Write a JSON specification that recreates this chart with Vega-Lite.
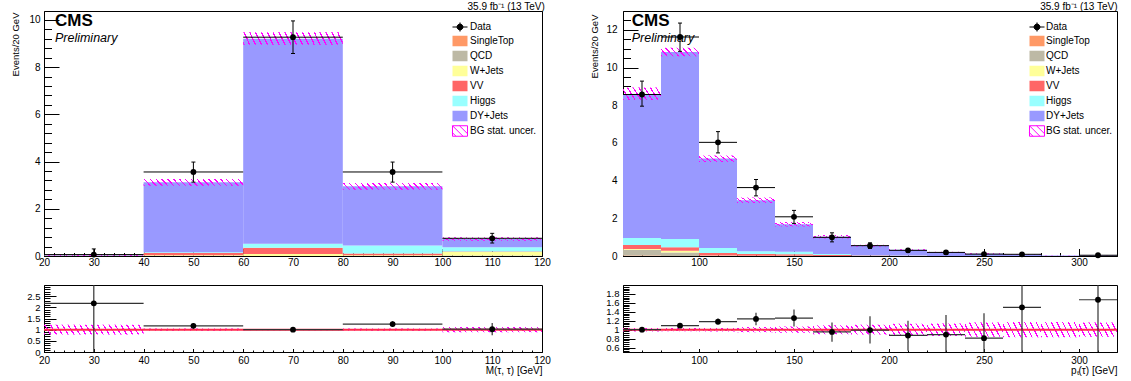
{
  "$schema": "https://vega.github.io/schema/vega-lite/v6.json",
  "autosize": {"type": "pad"},
  "padding": {"left": 9, "top": 1, "right": 0, "bottom": 0},
  "background": "white",
  "bounds": "flush",
  "columns": 2,
  "spacing": {"row": 29, "column": 81},
  "datasets": {
    "one": [{}],
    "mBars": [
      {"lo":20,"hi":40,"proc":"W+Jets","k":3,"val":0.003},
      {"lo":20,"hi":40,"proc":"VV","k":4,"val":0.006},
      {"lo":20,"hi":40,"proc":"Higgs","k":5,"val":0.002},
      {"lo":20,"hi":40,"proc":"DY+Jets","k":6,"val":0.017},
      {"lo":40,"hi":60,"proc":"W+Jets","k":3,"val":0.03},
      {"lo":40,"hi":60,"proc":"VV","k":4,"val":0.10},
      {"lo":40,"hi":60,"proc":"Higgs","k":5,"val":0.03},
      {"lo":40,"hi":60,"proc":"DY+Jets","k":6,"val":2.96},
      {"lo":60,"hi":80,"proc":"W+Jets","k":3,"val":0.08},
      {"lo":60,"hi":80,"proc":"VV","k":4,"val":0.27},
      {"lo":60,"hi":80,"proc":"Higgs","k":5,"val":0.17},
      {"lo":60,"hi":80,"proc":"DY+Jets","k":6,"val":8.68},
      {"lo":80,"hi":100,"proc":"W+Jets","k":3,"val":0.03},
      {"lo":80,"hi":100,"proc":"VV","k":4,"val":0.08},
      {"lo":80,"hi":100,"proc":"Higgs","k":5,"val":0.34},
      {"lo":80,"hi":100,"proc":"DY+Jets","k":6,"val":2.50},
      {"lo":100,"hi":120,"proc":"QCD","k":2,"val":0.02},
      {"lo":100,"hi":120,"proc":"W+Jets","k":3,"val":0.15},
      {"lo":100,"hi":120,"proc":"VV","k":4,"val":0.02},
      {"lo":100,"hi":120,"proc":"Higgs","k":5,"val":0.18},
      {"lo":100,"hi":120,"proc":"DY+Jets","k":6,"val":0.35}
    ],
    "mBand": [
      {"lo":20,"hi":40,"blo":0.012,"bhi":0.044},
      {"lo":40,"hi":60,"blo":2.98,"bhi":3.26},
      {"lo":60,"hi":80,"blo":8.95,"bhi":9.48},
      {"lo":80,"hi":100,"blo":2.81,"bhi":3.09},
      {"lo":100,"hi":120,"blo":0.65,"bhi":0.79}
    ],
    "mData": [
      {"x":30,"xlo":20,"xhi":40,"y":0.06,"ylo":0,"yhi":0.3},
      {"x":50,"xlo":40,"xhi":60,"y":3.56,"ylo":3.13,"yhi":3.98},
      {"x":70,"xlo":60,"xhi":80,"y":9.27,"ylo":8.58,"yhi":9.96},
      {"x":90,"xlo":80,"xhi":100,"y":3.56,"ylo":3.13,"yhi":3.98},
      {"x":110,"xlo":100,"xhi":120,"y":0.75,"ylo":0.55,"yhi":0.96}
    ],
    "mRatio": [
      {"x":30,"xlo":20,"xhi":40,"y":2.18,"ylo":0,"yhi":11},
      {"x":50,"xlo":40,"xhi":60,"y":1.17,"ylo":1.04,"yhi":1.3},
      {"x":70,"xlo":60,"xhi":80,"y":1.0,"ylo":0.93,"yhi":1.08},
      {"x":90,"xlo":80,"xhi":100,"y":1.25,"ylo":1.12,"yhi":1.38},
      {"x":110,"xlo":100,"xhi":120,"y":1.02,"ylo":0.75,"yhi":1.3}
    ],
    "mRBand": [
      {"lo":20,"hi":40,"rlo":0.78,"rhi":1.22},
      {"lo":40,"hi":60,"rlo":0.95,"rhi":1.05},
      {"lo":60,"hi":80,"rlo":0.97,"rhi":1.03},
      {"lo":80,"hi":100,"rlo":0.95,"rhi":1.05},
      {"lo":100,"hi":120,"rlo":0.88,"rhi":1.12}
    ],
    "pBars": [
      {"lo":60,"hi":80,"proc":"SingleTop","k":1,"val":0.02},
      {"lo":60,"hi":80,"proc":"QCD","k":2,"val":0.31},
      {"lo":60,"hi":80,"proc":"W+Jets","k":3,"val":0.04},
      {"lo":60,"hi":80,"proc":"VV","k":4,"val":0.21},
      {"lo":60,"hi":80,"proc":"Higgs","k":5,"val":0.37},
      {"lo":60,"hi":80,"proc":"DY+Jets","k":6,"val":7.65},
      {"lo":80,"hi":100,"proc":"QCD","k":2,"val":0.18},
      {"lo":80,"hi":100,"proc":"W+Jets","k":3,"val":0.10},
      {"lo":80,"hi":100,"proc":"VV","k":4,"val":0.18},
      {"lo":80,"hi":100,"proc":"Higgs","k":5,"val":0.44},
      {"lo":80,"hi":100,"proc":"DY+Jets","k":6,"val":9.93},
      {"lo":100,"hi":120,"proc":"QCD","k":2,"val":0.01},
      {"lo":100,"hi":120,"proc":"W+Jets","k":3,"val":0.02},
      {"lo":100,"hi":120,"proc":"VV","k":4,"val":0.13},
      {"lo":100,"hi":120,"proc":"Higgs","k":5,"val":0.26},
      {"lo":100,"hi":120,"proc":"DY+Jets","k":6,"val":4.75},
      {"lo":120,"hi":140,"proc":"W+Jets","k":3,"val":0.01},
      {"lo":120,"hi":140,"proc":"VV","k":4,"val":0.09},
      {"lo":120,"hi":140,"proc":"Higgs","k":5,"val":0.15},
      {"lo":120,"hi":140,"proc":"DY+Jets","k":6,"val":2.71},
      {"lo":140,"hi":160,"proc":"W+Jets","k":3,"val":0.01},
      {"lo":140,"hi":160,"proc":"VV","k":4,"val":0.08},
      {"lo":140,"hi":160,"proc":"Higgs","k":5,"val":0.13},
      {"lo":140,"hi":160,"proc":"DY+Jets","k":6,"val":1.46},
      {"lo":160,"hi":180,"proc":"VV","k":4,"val":0.05},
      {"lo":160,"hi":180,"proc":"Higgs","k":5,"val":0.05},
      {"lo":160,"hi":180,"proc":"DY+Jets","k":6,"val":0.92},
      {"lo":180,"hi":200,"proc":"VV","k":4,"val":0.02},
      {"lo":180,"hi":200,"proc":"Higgs","k":5,"val":0.02},
      {"lo":180,"hi":200,"proc":"DY+Jets","k":6,"val":0.51},
      {"lo":200,"hi":220,"proc":"VV","k":4,"val":0.01},
      {"lo":200,"hi":220,"proc":"Higgs","k":5,"val":0.01},
      {"lo":200,"hi":220,"proc":"DY+Jets","k":6,"val":0.31},
      {"lo":220,"hi":240,"proc":"DY+Jets","k":6,"val":0.21},
      {"lo":240,"hi":260,"proc":"DY+Jets","k":6,"val":0.12},
      {"lo":260,"hi":280,"proc":"DY+Jets","k":6,"val":0.08},
      {"lo":280,"hi":300,"proc":"DY+Jets","k":6,"val":0.02},
      {"lo":300,"hi":320,"proc":"DY+Jets","k":6,"val":0.02}
    ],
    "pBand": [
      {"lo":60,"hi":80,"blo":8.28,"bhi":8.94},
      {"lo":80,"hi":100,"blo":10.6,"bhi":11.05},
      {"lo":100,"hi":120,"blo":4.99,"bhi":5.33},
      {"lo":120,"hi":140,"blo":2.81,"bhi":3.11},
      {"lo":140,"hi":160,"blo":1.56,"bhi":1.8},
      {"lo":160,"hi":180,"blo":0.93,"bhi":1.11},
      {"lo":180,"hi":200,"blo":0.5,"bhi":0.6},
      {"lo":200,"hi":220,"blo":0.3,"bhi":0.36},
      {"lo":220,"hi":240,"blo":0.19,"bhi":0.23},
      {"lo":240,"hi":260,"blo":0.1,"bhi":0.14},
      {"lo":260,"hi":280,"blo":0.065,"bhi":0.095},
      {"lo":280,"hi":300,"blo":0.012,"bhi":0.028},
      {"lo":300,"hi":320,"blo":0.012,"bhi":0.028}
    ],
    "pData": [
      {"x":70,"xlo":60,"xhi":80,"y":8.57,"ylo":7.95,"yhi":9.28},
      {"x":90,"xlo":80,"xhi":100,"y":11.62,"ylo":10.86,"yhi":12.36},
      {"x":110,"xlo":100,"xhi":120,"y":6.03,"ylo":5.47,"yhi":6.6},
      {"x":130,"xlo":120,"xhi":140,"y":3.63,"ylo":3.19,"yhi":4.06},
      {"x":150,"xlo":140,"xhi":160,"y":2.08,"ylo":1.73,"yhi":2.42},
      {"x":170,"xlo":160,"xhi":180,"y":0.99,"ylo":0.75,"yhi":1.23},
      {"x":190,"xlo":180,"xhi":200,"y":0.55,"ylo":0.4,"yhi":0.7},
      {"x":210,"xlo":200,"xhi":220,"y":0.3,"ylo":0.2,"yhi":0.4},
      {"x":230,"xlo":220,"xhi":240,"y":0.19,"ylo":0.11,"yhi":0.27},
      {"x":250,"xlo":240,"xhi":260,"y":0.1,"ylo":0.04,"yhi":0.17},
      {"x":270,"xlo":260,"xhi":280,"y":0.09,"ylo":0.03,"yhi":0.16},
      {"x":310,"xlo":300,"xhi":320,"y":0.04,"ylo":0,"yhi":0.09}
    ],
    "pRatio": [
      {"x":70,"xlo":60,"xhi":80,"y":1.0,"ylo":0.94,"yhi":1.06},
      {"x":90,"xlo":80,"xhi":100,"y":1.09,"ylo":1.04,"yhi":1.14},
      {"x":110,"xlo":100,"xhi":120,"y":1.18,"ylo":1.11,"yhi":1.25},
      {"x":130,"xlo":120,"xhi":140,"y":1.24,"ylo":1.1,"yhi":1.38},
      {"x":150,"xlo":140,"xhi":160,"y":1.26,"ylo":1.07,"yhi":1.45},
      {"x":170,"xlo":160,"xhi":180,"y":0.95,"ylo":0.73,"yhi":1.16},
      {"x":190,"xlo":180,"xhi":200,"y":0.99,"ylo":0.69,"yhi":1.3},
      {"x":210,"xlo":200,"xhi":220,"y":0.87,"ylo":0.53,"yhi":1.2},
      {"x":230,"xlo":220,"xhi":240,"y":0.89,"ylo":0.45,"yhi":1.33},
      {"x":250,"xlo":240,"xhi":260,"y":0.81,"ylo":0.2,"yhi":1.37},
      {"x":270,"xlo":260,"xhi":280,"y":1.5,"ylo":0.4,"yhi":2.6},
      {"x":310,"xlo":300,"xhi":320,"y":1.67,"ylo":0,"yhi":3.5}
    ],
    "pRBand": [
      {"lo":60,"hi":80,"rlo":0.96,"rhi":1.04},
      {"lo":80,"hi":100,"rlo":0.965,"rhi":1.035},
      {"lo":100,"hi":120,"rlo":0.96,"rhi":1.04},
      {"lo":120,"hi":140,"rlo":0.94,"rhi":1.06},
      {"lo":140,"hi":160,"rlo":0.93,"rhi":1.07},
      {"lo":160,"hi":180,"rlo":0.9,"rhi":1.1},
      {"lo":180,"hi":200,"rlo":0.89,"rhi":1.11},
      {"lo":200,"hi":220,"rlo":0.87,"rhi":1.13},
      {"lo":220,"hi":240,"rlo":0.86,"rhi":1.14},
      {"lo":240,"hi":260,"rlo":0.84,"rhi":1.16},
      {"lo":260,"hi":280,"rlo":0.83,"rhi":1.17},
      {"lo":280,"hi":300,"rlo":0.83,"rhi":1.17},
      {"lo":300,"hi":320,"rlo":0.84,"rhi":1.16}
    ]
  },
  "concat": [
    {
      "width": 498,
      "height": 245,
      "title": {"text": "35.9 fb⁻¹ (13 TeV)", "anchor": "end", "offset": -8.5, "dx": -5.5, "baseline": "alphabetic", "fontSize": 10, "fontWeight": "normal", "font": "Liberation Sans", "color": "#000"},
      "layer": [
        {
          "data": {"name": "mBars"},
          "transform": [{"stack": "val", "groupby": ["lo"], "sort": [{"field": "k", "order": "ascending"}], "as": ["s0", "s1"]}],
          "mark": {"type": "rect"},
          "encoding": {
            "x": {"field": "lo", "type": "quantitative", "scale": {"domain": [20, 120], "nice": false, "zero": false},
              "axis": {"values": [20,22,24,26,28,30,32,34,36,38,40,42,44,46,48,50,52,54,56,58,60,62,64,66,68,70,72,74,76,78,80,82,84,86,88,90,92,94,96,98,100,102,104,106,108,110,112,114,116,118,120],
                "tickCount": 1000, "format": "~r", "labelOverlap": false, "labelSeparation": -40, "labelExpr": "datum.value % 10 === 0 ? datum.label : ''",
                "labelFontSize": {"condition": {"test": "datum.value % 10 === 0", "value": 10}, "value": 0},
                "tickSize": {"condition": {"test": "datum.value % 10 === 0", "value": -7.5}, "value": -3.5},
                "labelPadding": 9, "title": null}},
            "x2": {"field": "hi"},
            "y": {"field": "s0", "type": "quantitative", "scale": {"domain": [0, 10.38], "nice": false, "zero": false},
              "axis": {"values": [0,0.4,0.8,1.2,1.6,2,2.4,2.8,3.2,3.6,4,4.4,4.8,5.2,5.6,6,6.4,6.8,7.2,7.6,8,8.4,8.8,9.2,9.6,10],
                "tickCount": 1000, "format": "~r", "labelOverlap": false, "labelSeparation": -40, "labelExpr": "datum.value % 2 === 0 ? datum.label : ''",
                "labelFontSize": {"condition": {"test": "datum.value % 2 === 0", "value": 10}, "value": 0},
                "tickSize": {"condition": {"test": "datum.value % 2 === 0", "value": -15}, "value": -7.5},
                "labelPadding": 19, "title": "Events/20 GeV", "titleFontSize": 9.5, "titleAngle": -90, "titleAlign": "right", "titleBaseline": "middle", "titleX": -29, "titleY": 1}},
            "y2": {"field": "s1"},
            "color": {"field": "proc", "type": "nominal",
              "scale": {"domain": ["Data","SingleTop","QCD","W+Jets","VV","Higgs","DY+Jets","BG stat. uncer."], "range": ["#000000","#ff9966","#bdb9a5","#ffff99","#ff6666","#99ffff","#9999ff","#ffffff"]},
              "legend": {"title": null, "orient": "none", "direction": "vertical", "legendX": 409, "legendY": 9, "padding": 0,
                "labelFont": "Liberation Sans", "labelFontSize": 10, "labelColor": "#000", "labelOffset": 3,
                "symbolSize": 169, "symbolStrokeWidth": 1, "rowPadding": -1.3,
                "encode": {"symbols": {"update": {
                  "shape": {"signal": "datum.value === 'Data' ? 'M-1.154,0H1.154M0,-0.7V0.7M0.45,0A0.45,0.45,0,1,1,-0.45,0A0.45,0.45,0,1,1,0.45,0Z' : (datum.value === 'BG stat. uncer.' ? 'M-1.154,-0.808H1.154V0.808H-1.154ZM-1.154,-0.808L0.46,0.808M-0.08,-0.808L1.154,0.42M-1.154,0.27L-0.62,0.808' : 'M-1.154,-0.808H1.154V0.808H-1.154Z')"},
                  "stroke": {"signal": "datum.value === 'BG stat. uncer.' ? '#ff00ff' : (datum.value === 'Data' ? '#000000' : 'transparent')"},
                  "strokeWidth": {"value": 1}
                }}}}
            }
          }
        },
        {
          "data": {"name": "mBand"},
          "mark": {"type": "rect", "fill": {"gradient":"linear","x1":0,"y1":1,"x2":1.0562,"y2":0.9366,"stops":[
            {"offset":0,"color":"#ff00ff"},{"offset":0.0139,"color":"#ff00ff"},{"offset":0.0139,"color":"transparent"},{"offset":0.0556,"color":"transparent"},
            {"offset":0.0556,"color":"#ff00ff"},{"offset":0.0694,"color":"#ff00ff"},{"offset":0.0694,"color":"transparent"},{"offset":0.1111,"color":"transparent"},
            {"offset":0.1111,"color":"#ff00ff"},{"offset":0.125,"color":"#ff00ff"},{"offset":0.125,"color":"transparent"},{"offset":0.1667,"color":"transparent"},
            {"offset":0.1667,"color":"#ff00ff"},{"offset":0.1806,"color":"#ff00ff"},{"offset":0.1806,"color":"transparent"},{"offset":0.2222,"color":"transparent"},
            {"offset":0.2222,"color":"#ff00ff"},{"offset":0.2361,"color":"#ff00ff"},{"offset":0.2361,"color":"transparent"},{"offset":0.2778,"color":"transparent"},
            {"offset":0.2778,"color":"#ff00ff"},{"offset":0.2917,"color":"#ff00ff"},{"offset":0.2917,"color":"transparent"},{"offset":0.3333,"color":"transparent"},
            {"offset":0.3333,"color":"#ff00ff"},{"offset":0.3472,"color":"#ff00ff"},{"offset":0.3472,"color":"transparent"},{"offset":0.3889,"color":"transparent"},
            {"offset":0.3889,"color":"#ff00ff"},{"offset":0.4028,"color":"#ff00ff"},{"offset":0.4028,"color":"transparent"},{"offset":0.4444,"color":"transparent"},
            {"offset":0.4444,"color":"#ff00ff"},{"offset":0.4583,"color":"#ff00ff"},{"offset":0.4583,"color":"transparent"},{"offset":0.5,"color":"transparent"},
            {"offset":0.5,"color":"#ff00ff"},{"offset":0.5139,"color":"#ff00ff"},{"offset":0.5139,"color":"transparent"},{"offset":0.5556,"color":"transparent"},
            {"offset":0.5556,"color":"#ff00ff"},{"offset":0.5694,"color":"#ff00ff"},{"offset":0.5694,"color":"transparent"},{"offset":0.6111,"color":"transparent"},
            {"offset":0.6111,"color":"#ff00ff"},{"offset":0.625,"color":"#ff00ff"},{"offset":0.625,"color":"transparent"},{"offset":0.6667,"color":"transparent"},
            {"offset":0.6667,"color":"#ff00ff"},{"offset":0.6806,"color":"#ff00ff"},{"offset":0.6806,"color":"transparent"},{"offset":0.7222,"color":"transparent"},
            {"offset":0.7222,"color":"#ff00ff"},{"offset":0.7361,"color":"#ff00ff"},{"offset":0.7361,"color":"transparent"},{"offset":0.7778,"color":"transparent"},
            {"offset":0.7778,"color":"#ff00ff"},{"offset":0.7917,"color":"#ff00ff"},{"offset":0.7917,"color":"transparent"},{"offset":0.8333,"color":"transparent"},
            {"offset":0.8333,"color":"#ff00ff"},{"offset":0.8472,"color":"#ff00ff"},{"offset":0.8472,"color":"transparent"},{"offset":0.8889,"color":"transparent"},
            {"offset":0.8889,"color":"#ff00ff"},{"offset":0.9028,"color":"#ff00ff"},{"offset":0.9028,"color":"transparent"},{"offset":0.9444,"color":"transparent"},
            {"offset":0.9444,"color":"#ff00ff"},{"offset":0.9583,"color":"#ff00ff"},{"offset":0.9583,"color":"transparent"},{"offset":1,"color":"transparent"}]}},
          "encoding": {
            "x": {"field": "lo", "type": "quantitative"},
            "x2": {"field": "hi"},
            "y": {"field": "blo", "type": "quantitative"},
            "y2": {"field": "bhi"}
          }
        },
        {
          "data": {"name": "mData"},
          "mark": {"type": "rule", "color": "#000", "strokeWidth": 1},
          "encoding": {"x": {"field": "x", "type": "quantitative"}, "y": {"field": "ylo", "type": "quantitative"}, "y2": {"field": "yhi"}}
        },
        {
          "data": {"name": "mData"},
          "mark": {"type": "tick", "orient": "horizontal", "size": 4, "thickness": 1, "color": "#000", "opacity": 1},
          "encoding": {"x": {"field": "x", "type": "quantitative"}, "y": {"field": "yhi", "type": "quantitative"}}
        },
        {
          "data": {"name": "mData"},
          "mark": {"type": "tick", "orient": "horizontal", "size": 4, "thickness": 1, "color": "#000", "opacity": 1},
          "encoding": {"x": {"field": "x", "type": "quantitative"}, "y": {"field": "ylo", "type": "quantitative"}}
        },
        {
          "data": {"name": "mData"},
          "mark": {"type": "rule", "color": "#000", "strokeWidth": 1},
          "encoding": {"x": {"field": "xlo", "type": "quantitative"}, "x2": {"field": "xhi"}, "y": {"field": "y", "type": "quantitative"}}
        },
        {
          "data": {"name": "mData"},
          "mark": {"type": "circle", "size": 34, "color": "#000", "opacity": 1},
          "encoding": {"x": {"field": "x", "type": "quantitative"}, "y": {"field": "y", "type": "quantitative"}}
        },
        {
          "data": {"name": "one"},
          "mark": {"type": "text", "text": "CMS", "font": "Liberation Sans", "fontSize": 17, "fontWeight": "bold", "align": "left", "baseline": "middle", "color": "#000"},
          "encoding": {"x": {"datum": 22.2}, "y": {"datum": 9.94}}
        },
        {
          "data": {"name": "one"},
          "mark": {"type": "text", "text": "Preliminary", "font": "Liberation Sans", "fontSize": 12.5, "fontStyle": "italic", "align": "left", "baseline": "middle", "color": "#000"},
          "encoding": {"x": {"datum": 22.2}, "y": {"datum": 9.22}}
        }
      ]
    },
    {
      "width": 494,
      "height": 245,
      "title": {"text": "35.9 fb⁻¹ (13 TeV)", "anchor": "end", "offset": -8.5, "dx": 0, "baseline": "alphabetic", "fontSize": 10, "fontWeight": "normal", "font": "Liberation Sans", "color": "#000"},
      "layer": [
        {
          "data": {"name": "pBars"},
          "transform": [{"stack": "val", "groupby": ["lo"], "sort": [{"field": "k", "order": "ascending"}], "as": ["s0", "s1"]}],
          "mark": {"type": "rect"},
          "encoding": {
            "x": {"field": "lo", "type": "quantitative", "scale": {"domain": [60, 320], "nice": false, "zero": false},
              "axis": {"values": [60,70,80,90,100,110,120,130,140,150,160,170,180,190,200,210,220,230,240,250,260,270,280,290,300,310,320],
                "tickCount": 1000, "format": "~r", "labelOverlap": false, "labelSeparation": -40, "labelExpr": "datum.value % 50 === 0 ? datum.label : ''",
                "labelFontSize": {"condition": {"test": "datum.value % 50 === 0", "value": 10}, "value": 0},
                "tickSize": {"condition": {"test": "datum.value % 50 === 0", "value": -7.5}, "value": -3.5},
                "labelPadding": 9, "title": null}},
            "x2": {"field": "hi"},
            "y": {"field": "s0", "type": "quantitative", "scale": {"domain": [0, 13], "nice": false, "zero": false},
              "axis": {"values": [0,0.5,1,1.5,2,2.5,3,3.5,4,4.5,5,5.5,6,6.5,7,7.5,8,8.5,9,9.5,10,10.5,11,11.5,12,12.5],
                "tickCount": 1000, "format": "~r", "labelOverlap": false, "labelSeparation": -40, "labelExpr": "datum.value % 2 === 0 ? datum.label : ''",
                "labelFontSize": {"condition": {"test": "datum.value % 2 === 0", "value": 10}, "value": 0},
                "tickSize": {"condition": {"test": "datum.value % 2 === 0", "value": -15}, "value": -7.5},
                "labelPadding": 21, "title": "Events/20 GeV", "titleFontSize": 9.5, "titleAngle": -90, "titleAlign": "right", "titleBaseline": "middle", "titleX": -29, "titleY": 3}},
            "y2": {"field": "s1"},
            "color": {"field": "proc", "type": "nominal",
              "scale": {"domain": ["Data","SingleTop","QCD","W+Jets","VV","Higgs","DY+Jets","BG stat. uncer."], "range": ["#000000","#ff9966","#bdb9a5","#ffff99","#ff6666","#99ffff","#9999ff","#ffffff"]},
              "legend": {"title": null, "orient": "none", "direction": "vertical", "legendX": 407, "legendY": 9, "padding": 0,
                "labelFont": "Liberation Sans", "labelFontSize": 10, "labelColor": "#000", "labelOffset": 2,
                "symbolSize": 169, "symbolStrokeWidth": 1, "rowPadding": -1.3,
                "encode": {"symbols": {"update": {
                  "shape": {"signal": "datum.value === 'Data' ? 'M-1.154,0H1.154M0,-0.7V0.7M0.45,0A0.45,0.45,0,1,1,-0.45,0A0.45,0.45,0,1,1,0.45,0Z' : (datum.value === 'BG stat. uncer.' ? 'M-1.154,-0.808H1.154V0.808H-1.154ZM-1.154,-0.808L0.46,0.808M-0.08,-0.808L1.154,0.42M-1.154,0.27L-0.62,0.808' : 'M-1.154,-0.808H1.154V0.808H-1.154Z')"},
                  "stroke": {"signal": "datum.value === 'BG stat. uncer.' ? '#ff00ff' : (datum.value === 'Data' ? '#000000' : 'transparent')"},
                  "strokeWidth": {"value": 1}
                }}}}
            }
          }
        },
        {
          "data": {"name": "pBand"},
          "mark": {"type": "rect", "fill": {"gradient":"linear","x1":0,"y1":1,"x2":1.1538,"y2":0.7692,"stops":[
            {"offset":0,"color":"#ff00ff"},{"offset":0.03,"color":"#ff00ff"},{"offset":0.03,"color":"transparent"},{"offset":0.125,"color":"transparent"},
            {"offset":0.125,"color":"#ff00ff"},{"offset":0.155,"color":"#ff00ff"},{"offset":0.155,"color":"transparent"},{"offset":0.25,"color":"transparent"},
            {"offset":0.25,"color":"#ff00ff"},{"offset":0.28,"color":"#ff00ff"},{"offset":0.28,"color":"transparent"},{"offset":0.375,"color":"transparent"},
            {"offset":0.375,"color":"#ff00ff"},{"offset":0.405,"color":"#ff00ff"},{"offset":0.405,"color":"transparent"},{"offset":0.5,"color":"transparent"},
            {"offset":0.5,"color":"#ff00ff"},{"offset":0.53,"color":"#ff00ff"},{"offset":0.53,"color":"transparent"},{"offset":0.625,"color":"transparent"},
            {"offset":0.625,"color":"#ff00ff"},{"offset":0.655,"color":"#ff00ff"},{"offset":0.655,"color":"transparent"},{"offset":0.75,"color":"transparent"},
            {"offset":0.75,"color":"#ff00ff"},{"offset":0.78,"color":"#ff00ff"},{"offset":0.78,"color":"transparent"},{"offset":0.875,"color":"transparent"},
            {"offset":0.875,"color":"#ff00ff"},{"offset":0.905,"color":"#ff00ff"},{"offset":0.905,"color":"transparent"},{"offset":1,"color":"transparent"}]}},
          "encoding": {
            "x": {"field": "lo", "type": "quantitative"},
            "x2": {"field": "hi"},
            "y": {"field": "blo", "type": "quantitative"},
            "y2": {"field": "bhi"}
          }
        },
        {
          "data": {"name": "pData"},
          "mark": {"type": "rule", "color": "#000", "strokeWidth": 1},
          "encoding": {"x": {"field": "x", "type": "quantitative"}, "y": {"field": "ylo", "type": "quantitative"}, "y2": {"field": "yhi"}}
        },
        {
          "data": {"name": "pData"},
          "mark": {"type": "tick", "orient": "horizontal", "size": 4, "thickness": 1, "color": "#000", "opacity": 1},
          "encoding": {"x": {"field": "x", "type": "quantitative"}, "y": {"field": "yhi", "type": "quantitative"}}
        },
        {
          "data": {"name": "pData"},
          "mark": {"type": "tick", "orient": "horizontal", "size": 4, "thickness": 1, "color": "#000", "opacity": 1},
          "encoding": {"x": {"field": "x", "type": "quantitative"}, "y": {"field": "ylo", "type": "quantitative"}}
        },
        {
          "data": {"name": "pData"},
          "mark": {"type": "rule", "color": "#000", "strokeWidth": 1},
          "encoding": {"x": {"field": "xlo", "type": "quantitative"}, "x2": {"field": "xhi"}, "y": {"field": "y", "type": "quantitative"}}
        },
        {
          "data": {"name": "pData"},
          "mark": {"type": "circle", "size": 34, "color": "#000", "opacity": 1},
          "encoding": {"x": {"field": "x", "type": "quantitative"}, "y": {"field": "y", "type": "quantitative"}}
        },
        {
          "data": {"name": "one"},
          "mark": {"type": "text", "text": "CMS", "font": "Liberation Sans", "fontSize": 17, "fontWeight": "bold", "align": "left", "baseline": "middle", "color": "#000"},
          "encoding": {"x": {"datum": 64.6}, "y": {"datum": 12.47}}
        },
        {
          "data": {"name": "one"},
          "mark": {"type": "text", "text": "Preliminary", "font": "Liberation Sans", "fontSize": 12.5, "fontStyle": "italic", "align": "left", "baseline": "middle", "color": "#000"},
          "encoding": {"x": {"datum": 64.6}, "y": {"datum": 11.56}}
        }
      ]
    },
    {
      "width": 498,
      "height": 67,
      "layer": [
        {
          "data": {"name": "mRBand"},
          "mark": {"type": "rect", "fill": {"gradient":"linear","x1":0,"y1":1,"x2":1.0562,"y2":0.9366,"stops":[
            {"offset":0,"color":"#ff00ff"},{"offset":0.0139,"color":"#ff00ff"},{"offset":0.0139,"color":"transparent"},{"offset":0.0556,"color":"transparent"},
            {"offset":0.0556,"color":"#ff00ff"},{"offset":0.0694,"color":"#ff00ff"},{"offset":0.0694,"color":"transparent"},{"offset":0.1111,"color":"transparent"},
            {"offset":0.1111,"color":"#ff00ff"},{"offset":0.125,"color":"#ff00ff"},{"offset":0.125,"color":"transparent"},{"offset":0.1667,"color":"transparent"},
            {"offset":0.1667,"color":"#ff00ff"},{"offset":0.1806,"color":"#ff00ff"},{"offset":0.1806,"color":"transparent"},{"offset":0.2222,"color":"transparent"},
            {"offset":0.2222,"color":"#ff00ff"},{"offset":0.2361,"color":"#ff00ff"},{"offset":0.2361,"color":"transparent"},{"offset":0.2778,"color":"transparent"},
            {"offset":0.2778,"color":"#ff00ff"},{"offset":0.2917,"color":"#ff00ff"},{"offset":0.2917,"color":"transparent"},{"offset":0.3333,"color":"transparent"},
            {"offset":0.3333,"color":"#ff00ff"},{"offset":0.3472,"color":"#ff00ff"},{"offset":0.3472,"color":"transparent"},{"offset":0.3889,"color":"transparent"},
            {"offset":0.3889,"color":"#ff00ff"},{"offset":0.4028,"color":"#ff00ff"},{"offset":0.4028,"color":"transparent"},{"offset":0.4444,"color":"transparent"},
            {"offset":0.4444,"color":"#ff00ff"},{"offset":0.4583,"color":"#ff00ff"},{"offset":0.4583,"color":"transparent"},{"offset":0.5,"color":"transparent"},
            {"offset":0.5,"color":"#ff00ff"},{"offset":0.5139,"color":"#ff00ff"},{"offset":0.5139,"color":"transparent"},{"offset":0.5556,"color":"transparent"},
            {"offset":0.5556,"color":"#ff00ff"},{"offset":0.5694,"color":"#ff00ff"},{"offset":0.5694,"color":"transparent"},{"offset":0.6111,"color":"transparent"},
            {"offset":0.6111,"color":"#ff00ff"},{"offset":0.625,"color":"#ff00ff"},{"offset":0.625,"color":"transparent"},{"offset":0.6667,"color":"transparent"},
            {"offset":0.6667,"color":"#ff00ff"},{"offset":0.6806,"color":"#ff00ff"},{"offset":0.6806,"color":"transparent"},{"offset":0.7222,"color":"transparent"},
            {"offset":0.7222,"color":"#ff00ff"},{"offset":0.7361,"color":"#ff00ff"},{"offset":0.7361,"color":"transparent"},{"offset":0.7778,"color":"transparent"},
            {"offset":0.7778,"color":"#ff00ff"},{"offset":0.7917,"color":"#ff00ff"},{"offset":0.7917,"color":"transparent"},{"offset":0.8333,"color":"transparent"},
            {"offset":0.8333,"color":"#ff00ff"},{"offset":0.8472,"color":"#ff00ff"},{"offset":0.8472,"color":"transparent"},{"offset":0.8889,"color":"transparent"},
            {"offset":0.8889,"color":"#ff00ff"},{"offset":0.9028,"color":"#ff00ff"},{"offset":0.9028,"color":"transparent"},{"offset":0.9444,"color":"transparent"},
            {"offset":0.9444,"color":"#ff00ff"},{"offset":0.9583,"color":"#ff00ff"},{"offset":0.9583,"color":"transparent"},{"offset":1,"color":"transparent"}]}},
          "encoding": {
            "x": {"field": "lo", "type": "quantitative", "scale": {"domain": [20, 120], "nice": false, "zero": false},
              "axis": {"values": [20,22,24,26,28,30,32,34,36,38,40,42,44,46,48,50,52,54,56,58,60,62,64,66,68,70,72,74,76,78,80,82,84,86,88,90,92,94,96,98,100,102,104,106,108,110,112,114,116,118,120],
                "tickCount": 1000, "format": "~r", "labelOverlap": false, "labelSeparation": -40, "labelExpr": "datum.value % 10 === 0 ? datum.label : ''",
                "labelFontSize": {"condition": {"test": "datum.value % 10 === 0", "value": 10}, "value": 0},
                "tickSize": {"condition": {"test": "datum.value % 10 === 0", "value": -3.5}, "value": -2},
                "labelPadding": 6.5, "title": "M(τ, τ) [GeV]", "titleFontSize": 10, "titleAlign": "right", "titleBaseline": "middle", "titleX": 498, "titleY": 18}},
            "x2": {"field": "hi"},
            "y": {"field": "rlo", "type": "quantitative", "scale": {"domain": [0, 3], "nice": false, "zero": false},
              "axis": {"values": [0,0.1,0.2,0.3,0.4,0.5,0.6,0.7,0.8,0.9,1,1.1,1.2,1.3,1.4,1.5,1.6,1.7,1.8,1.9,2,2.1,2.2,2.3,2.4,2.5,2.6,2.7,2.8,2.9],
                "tickCount": 1000, "format": "~r", "labelOverlap": false, "labelSeparation": -40, "labelExpr": "abs(datum.value*2 - round(datum.value*2)) < 0.001 ? datum.label : ''",
                "labelFontSize": {"condition": {"test": "abs(datum.value*2 - round(datum.value*2)) < 0.001", "value": 9.5}, "value": 0},
                "tickSize": {"condition": {"test": "abs(datum.value*2 - round(datum.value*2)) < 0.001", "value": -12}, "value": -6},
                "labelPadding": 16, "title": null}},
            "y2": {"field": "rhi"}
          }
        },
        {
          "data": {"name": "one"},
          "mark": {"type": "rule", "color": "#ff2a4a", "strokeWidth": 2},
          "encoding": {"y": {"datum": 1}}
        },
        {
          "data": {"name": "mRatio"},
          "mark": {"type": "rule", "color": "#333", "strokeWidth": 1.2, "clip": true},
          "encoding": {"x": {"field": "x", "type": "quantitative"}, "y": {"field": "ylo", "type": "quantitative"}, "y2": {"field": "yhi"}}
        },
        {
          "data": {"name": "mRatio"},
          "mark": {"type": "rule", "color": "#333", "strokeWidth": 1.2, "clip": true},
          "encoding": {"x": {"field": "xlo", "type": "quantitative"}, "x2": {"field": "xhi"}, "y": {"field": "y", "type": "quantitative"}}
        },
        {
          "data": {"name": "mRatio"},
          "mark": {"type": "circle", "size": 34, "color": "#000", "opacity": 1, "clip": true},
          "encoding": {"x": {"field": "x", "type": "quantitative"}, "y": {"field": "y", "type": "quantitative"}}
        }
      ]
    },
    {
      "width": 494,
      "height": 67,
      "layer": [
        {
          "data": {"name": "pRBand"},
          "mark": {"type": "rect", "fill": {"gradient":"linear","x1":0,"y1":1,"x2":1.1538,"y2":0.7692,"stops":[
            {"offset":0,"color":"#ff00ff"},{"offset":0.03,"color":"#ff00ff"},{"offset":0.03,"color":"transparent"},{"offset":0.125,"color":"transparent"},
            {"offset":0.125,"color":"#ff00ff"},{"offset":0.155,"color":"#ff00ff"},{"offset":0.155,"color":"transparent"},{"offset":0.25,"color":"transparent"},
            {"offset":0.25,"color":"#ff00ff"},{"offset":0.28,"color":"#ff00ff"},{"offset":0.28,"color":"transparent"},{"offset":0.375,"color":"transparent"},
            {"offset":0.375,"color":"#ff00ff"},{"offset":0.405,"color":"#ff00ff"},{"offset":0.405,"color":"transparent"},{"offset":0.5,"color":"transparent"},
            {"offset":0.5,"color":"#ff00ff"},{"offset":0.53,"color":"#ff00ff"},{"offset":0.53,"color":"transparent"},{"offset":0.625,"color":"transparent"},
            {"offset":0.625,"color":"#ff00ff"},{"offset":0.655,"color":"#ff00ff"},{"offset":0.655,"color":"transparent"},{"offset":0.75,"color":"transparent"},
            {"offset":0.75,"color":"#ff00ff"},{"offset":0.78,"color":"#ff00ff"},{"offset":0.78,"color":"transparent"},{"offset":0.875,"color":"transparent"},
            {"offset":0.875,"color":"#ff00ff"},{"offset":0.905,"color":"#ff00ff"},{"offset":0.905,"color":"transparent"},{"offset":1,"color":"transparent"}]}},
          "encoding": {
            "x": {"field": "lo", "type": "quantitative", "scale": {"domain": [60, 320], "nice": false, "zero": false},
              "axis": {"values": [60,70,80,90,100,110,120,130,140,150,160,170,180,190,200,210,220,230,240,250,260,270,280,290,300,310,320],
                "tickCount": 1000, "format": "~r", "labelOverlap": false, "labelSeparation": -40, "labelExpr": "datum.value % 50 === 0 ? datum.label : ''",
                "labelFontSize": {"condition": {"test": "datum.value % 50 === 0", "value": 10}, "value": 0},
                "tickSize": {"condition": {"test": "datum.value % 50 === 0", "value": -3.5}, "value": -2},
                "labelPadding": 6.5, "title": "pₜ(τ) [GeV]", "titleFontSize": 10, "titleAlign": "right", "titleBaseline": "middle", "titleX": 494, "titleY": 18}},
            "x2": {"field": "hi"},
            "y": {"field": "rlo", "type": "quantitative", "scale": {"domain": [0.5, 2.0], "nice": false, "zero": false},
              "axis": {"values": [0.52,0.56,0.6,0.64,0.68,0.72,0.76,0.8,0.84,0.88,0.92,0.96,1,1.04,1.08,1.12,1.16,1.2,1.24,1.28,1.32,1.36,1.4,1.44,1.48,1.52,1.56,1.6,1.64,1.68,1.72,1.76,1.8,1.84,1.88,1.92,1.96],
                "tickCount": 1000, "format": "~r", "labelOverlap": false, "labelSeparation": -40, "labelExpr": "abs(datum.value*5 - round(datum.value*5)) < 0.001 ? datum.label : ''",
                "labelFontSize": {"condition": {"test": "abs(datum.value*5 - round(datum.value*5)) < 0.001", "value": 9.5}, "value": 0},
                "tickSize": {"condition": {"test": "abs(datum.value*5 - round(datum.value*5)) < 0.001", "value": -12}, "value": -6},
                "labelPadding": 16, "title": null}},
            "y2": {"field": "rhi"}
          }
        },
        {
          "data": {"name": "one"},
          "mark": {"type": "rule", "color": "#ff2a4a", "strokeWidth": 2},
          "encoding": {"y": {"datum": 1}}
        },
        {
          "data": {"name": "pRatio"},
          "mark": {"type": "rule", "color": "#333", "strokeWidth": 1.2, "clip": true},
          "encoding": {"x": {"field": "x", "type": "quantitative"}, "y": {"field": "ylo", "type": "quantitative"}, "y2": {"field": "yhi"}}
        },
        {
          "data": {"name": "pRatio"},
          "mark": {"type": "rule", "color": "#333", "strokeWidth": 1.2, "clip": true},
          "encoding": {"x": {"field": "xlo", "type": "quantitative"}, "x2": {"field": "xhi"}, "y": {"field": "y", "type": "quantitative"}}
        },
        {
          "data": {"name": "pRatio"},
          "mark": {"type": "circle", "size": 34, "color": "#000", "opacity": 1, "clip": true},
          "encoding": {"x": {"field": "x", "type": "quantitative"}, "y": {"field": "y", "type": "quantitative"}}
        }
      ]
    }
  ],
  "resolve": {"scale": {"color": "independent"}, "legend": {"color": "independent"}},
  "config": {
    "view": {"stroke": "#000", "strokeWidth": 1},
    "font": "Liberation Sans",
    "axis": {"labelFont": "Liberation Sans", "labelFontSize": 10, "labelColor": "#000", "titleFont": "Liberation Sans", "titleFontWeight": "normal", "titleColor": "#000", "tickColor": "#000", "tickWidth": 1, "domainColor": "#000", "domainWidth": 1, "grid": false, "labelFlush": false, "labelOverlap": false, "zindex": 1},
    "title": {"font": "Liberation Sans", "fontWeight": "normal", "fontSize": 10, "color": "#000"}
  }
}
